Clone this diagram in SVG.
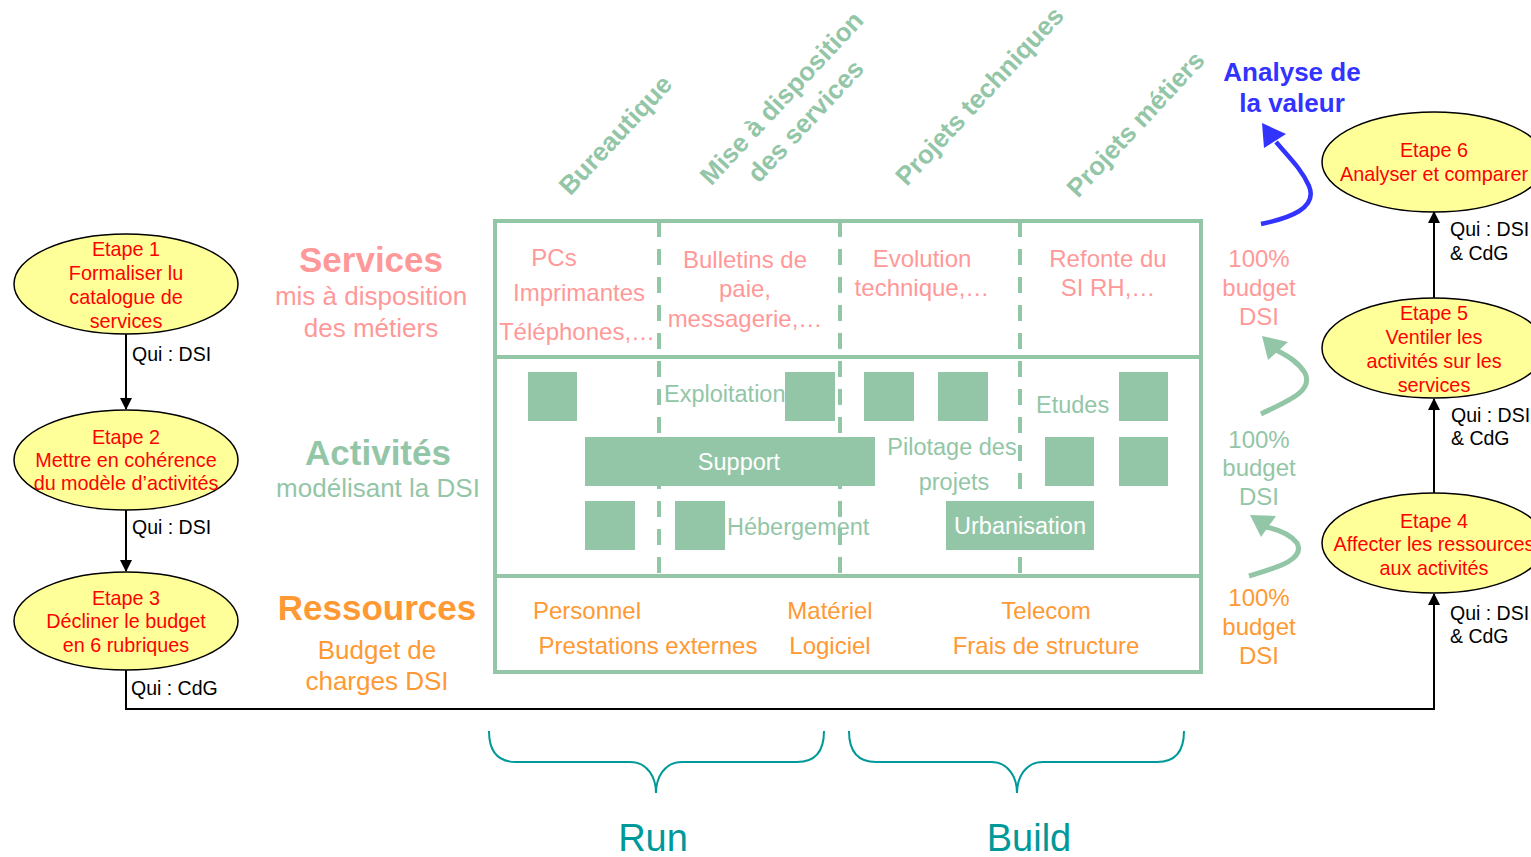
<svg xmlns="http://www.w3.org/2000/svg" width="1531" height="857" viewBox="0 0 1531 857">
<defs>
<style>
text{font-family:"Liberation Sans",Arial,sans-serif}
.g{fill:#93C6A7}
.gs{stroke:#93C6A7;fill:none}
.pk{fill:#FF9999}
.or{fill:#FF9933}
.red{fill:#FF0000;font-size:19.8px;text-anchor:middle}
.blk{fill:#000;font-size:19.5px}
.ell{fill:#FFFF99;stroke:#000;stroke-width:1.5}
.cell{font-size:24px;text-anchor:middle}
.hdr{font-size:26px;font-weight:bold;fill:#93C6A7;text-anchor:middle}
.mid{text-anchor:middle}
.brace{fill:none;stroke:#009999;stroke-width:2}
</style>
<marker id="ah" markerWidth="12" markerHeight="12" refX="11" refY="6" orient="auto" markerUnits="userSpaceOnUse" viewBox="0 0 12 12">
<path d="M0,0 L12,6 L0,12 z" fill="#000"/>
</marker>
</defs>
<rect width="1531" height="857" fill="#fff"/>

<!-- Column headers -->
<g id="headers">
<text class="hdr" transform="translate(622,141) rotate(-47)">Bureautique</text>
<text class="hdr" transform="translate(788,104) rotate(-47)">Mise à disposition</text>
<text class="hdr" transform="translate(812,127) rotate(-47)">des services</text>
<text class="hdr" transform="translate(986,102) rotate(-47)">Projets techniques</text>
<text class="hdr" transform="translate(1142,130) rotate(-47)">Projets métiers</text>
</g>

<!-- Row labels -->
<g id="row-labels">
<text class="pk mid" x="371" y="272" font-size="35" font-weight="bold">Services</text>
<text class="pk mid" x="371" y="305" font-size="26">mis à disposition</text>
<text class="pk mid" x="371" y="337" font-size="26">des métiers</text>
<text class="g mid" x="378" y="465" font-size="35" font-weight="bold">Activités</text>
<text class="g mid" x="378" y="497" font-size="26">modélisant la DSI</text>
<text class="or mid" x="377" y="620" font-size="35" font-weight="bold">Ressources</text>
<text class="or mid" x="377" y="659" font-size="26">Budget de</text>
<text class="or mid" x="377" y="690" font-size="26">charges DSI</text>
</g>

<!-- Matrix -->
<g id="matrix">
<rect x="495" y="221" width="706" height="451" class="gs" stroke-width="4"/>
<line x1="495" y1="357" x2="1201" y2="357" class="gs" stroke-width="4"/>
<line x1="495" y1="576" x2="1201" y2="576" class="gs" stroke-width="4"/>
<line x1="659" y1="221" x2="659" y2="576" class="gs" stroke-width="4" stroke-dasharray="16 12"/>
<line x1="840" y1="221" x2="840" y2="576" class="gs" stroke-width="4" stroke-dasharray="16 12"/>
<line x1="1020" y1="221" x2="1020" y2="576" class="gs" stroke-width="4" stroke-dasharray="16 12"/>

<text class="pk cell" x="554" y="266">PCs</text>
<text class="pk cell" x="579" y="301">Imprimantes</text>
<text class="pk cell" x="577" y="340">Téléphones,…</text>
<text class="pk cell" x="745" y="268">Bulletins de</text>
<text class="pk cell" x="745" y="297">paie,</text>
<text class="pk cell" x="745" y="327">messagerie,…</text>
<text class="pk cell" x="922" y="267">Evolution</text>
<text class="pk cell" x="922" y="296">technique,…</text>
<text class="pk cell" x="1108" y="267">Refonte du</text>
<text class="pk cell" x="1108" y="296">SI RH,…</text>

<text class="g" x="664" y="402" font-size="23.5">Exploitation</text>
<text class="g" x="1036" y="413" font-size="23.5">Etudes</text>
<text class="g mid" x="952" y="455" font-size="23.5">Pilotage des</text>
<text class="g mid" x="954" y="490" font-size="23.5">projets</text>
<text class="g" x="727" y="535" font-size="23.5">Hébergement</text>

<rect x="528" y="372" width="49" height="49" class="g"/>
<rect x="785" y="372" width="50" height="49" class="g"/>
<rect x="864" y="372" width="50" height="49" class="g"/>
<rect x="938" y="372" width="50" height="49" class="g"/>
<rect x="1119" y="372" width="49" height="49" class="g"/>
<rect x="585" y="437" width="290" height="49" class="g"/>
<rect x="1045" y="437" width="49" height="49" class="g"/>
<rect x="1119" y="437" width="49" height="49" class="g"/>
<rect x="585" y="501" width="50" height="49" class="g"/>
<rect x="675" y="501" width="50" height="49" class="g"/>
<rect x="946" y="501" width="148" height="49" class="g"/>
<text class="mid" x="739" y="470" font-size="23.5" fill="#fff">Support</text>
<text class="mid" x="1020" y="534" font-size="23.5" fill="#fff">Urbanisation</text>

<text class="or cell" x="587" y="619">Personnel</text>
<text class="or cell" x="648" y="654">Prestations externes</text>
<text class="or cell" x="830" y="619">Matériel</text>
<text class="or cell" x="830" y="654">Logiciel</text>
<text class="or cell" x="1046" y="619">Telecom</text>
<text class="or cell" x="1046" y="654">Frais de structure</text>
</g>

<!-- Budget labels -->
<g id="budget-labels">
<text class="pk cell" x="1259" y="267">100%</text>
<text class="pk cell" x="1259" y="296">budget</text>
<text class="pk cell" x="1259" y="325">DSI</text>
<text class="g cell" x="1259" y="448">100%</text>
<text class="g cell" x="1259" y="476">budget</text>
<text class="g cell" x="1259" y="505">DSI</text>
<text class="or cell" x="1259" y="606">100%</text>
<text class="or cell" x="1259" y="635">budget</text>
<text class="or cell" x="1259" y="664">DSI</text>
<text class="mid" x="1292" y="81" font-size="26" font-weight="bold" fill="#3333FF">Analyse de</text>
<text class="mid" x="1292" y="112" font-size="26" font-weight="bold" fill="#3333FF">la valeur</text>
</g>

<!-- Steps -->
<g id="etape1">
<ellipse cx="126" cy="284" rx="112" ry="50" class="ell"/>
<text class="red" x="126" y="256">Etape 1</text>
<text class="red" x="126" y="280">Formaliser lu</text>
<text class="red" x="126" y="304">catalogue de</text>
<text class="red" x="126" y="328">services</text>
</g>
<g id="etape2">
<ellipse cx="126" cy="460" rx="112" ry="50" class="ell"/>
<text class="red" x="126" y="444">Etape 2</text>
<text class="red" x="126" y="467">Mettre en cohérence</text>
<text class="red" x="126" y="490">du modèle d’activités</text>
</g>
<g id="etape3">
<ellipse cx="126" cy="621" rx="112" ry="49" class="ell"/>
<text class="red" x="126" y="605">Etape 3</text>
<text class="red" x="126" y="628">Décliner le budget</text>
<text class="red" x="126" y="652">en 6 rubriques</text>
</g>
<g id="etape4">
<ellipse cx="1434" cy="543" rx="112" ry="50" class="ell"/>
<text class="red" x="1434" y="528">Etape 4</text>
<text class="red" x="1434" y="551">Affecter les ressources</text>
<text class="red" x="1434" y="575">aux activités</text>
</g>
<g id="etape5">
<ellipse cx="1434" cy="348" rx="112" ry="50" class="ell"/>
<text class="red" x="1434" y="320">Etape 5</text>
<text class="red" x="1434" y="344">Ventiler les</text>
<text class="red" x="1434" y="368">activités sur les</text>
<text class="red" x="1434" y="392">services</text>
</g>
<g id="etape6">
<ellipse cx="1434" cy="162" rx="112" ry="50" class="ell"/>
<text class="red" x="1434" y="157">Etape 6</text>
<text class="red" x="1434" y="181">Analyser et comparer</text>
</g>

<!-- Connectors -->
<g id="connectors">
<line x1="126" y1="334" x2="126" y2="409" stroke="#000" stroke-width="2" marker-end="url(#ah)"/>
<line x1="126" y1="510" x2="126" y2="571" stroke="#000" stroke-width="2" marker-end="url(#ah)"/>
<polyline points="126,670 126,709 1434,709 1434,594" fill="none" stroke="#000" stroke-width="2" marker-end="url(#ah)"/>
<line x1="1434" y1="493" x2="1434" y2="399" stroke="#000" stroke-width="2" marker-end="url(#ah)"/>
<line x1="1434" y1="298" x2="1434" y2="212" stroke="#000" stroke-width="2" marker-end="url(#ah)"/>
<text class="blk" x="132" y="361">Qui : DSI</text>
<text class="blk" x="132" y="534">Qui : DSI</text>
<text class="blk" x="131" y="695" font-size="17.5">Qui : CdG</text>
<text class="blk" x="1450" y="236">Qui : DSI</text>
<text class="blk" x="1450" y="260">&amp; CdG</text>
<text class="blk" x="1451" y="422">Qui : DSI</text>
<text class="blk" x="1451" y="445">&amp; CdG</text>
<text class="blk" x="1450" y="620">Qui : DSI</text>
<text class="blk" x="1450" y="643">&amp; CdG</text>

<path d="M1261,224 C1290,218 1318,208 1309,186 C1302,170 1290,158 1276,142" fill="none" stroke="#3333FF" stroke-width="4.5"/>
<path d="M1262,123 L1286,134 L1264,148 z" fill="#3333FF"/>
<path d="M1261,414 C1285,402 1314,392 1305,373 C1298,362 1288,356 1276,350" fill="none" stroke="#93C6A7" stroke-width="5"/>
<path d="M1262,336 L1288,342 L1268,360 z" fill="#93C6A7"/>
<path d="M1249,576 C1275,568 1306,560 1297,543 C1290,534 1280,530 1266,527" fill="none" stroke="#93C6A7" stroke-width="5"/>
<path d="M1250,515 L1276,516 L1261,537 z" fill="#93C6A7"/>
</g>

<!-- Braces -->
<g id="run">
<path class="brace" d="M489,731 C489,750 497,762 516,762 L630,762 C648,762 656,778 656,793 C656,778 664,762 682,762 L797,762 C816,762 824,750 824,731"/>
<text class="mid" x="653" y="851" font-size="38" fill="#009999">Run</text>
</g>
<g id="build">
<path class="brace" d="M849,731 C849,750 857,762 876,762 L991,762 C1009,762 1017,778 1017,793 C1017,778 1025,762 1043,762 L1157,762 C1176,762 1184,750 1184,731"/>
<text class="mid" x="1029" y="851" font-size="38" fill="#009999">Build</text>
</g>
</svg>
